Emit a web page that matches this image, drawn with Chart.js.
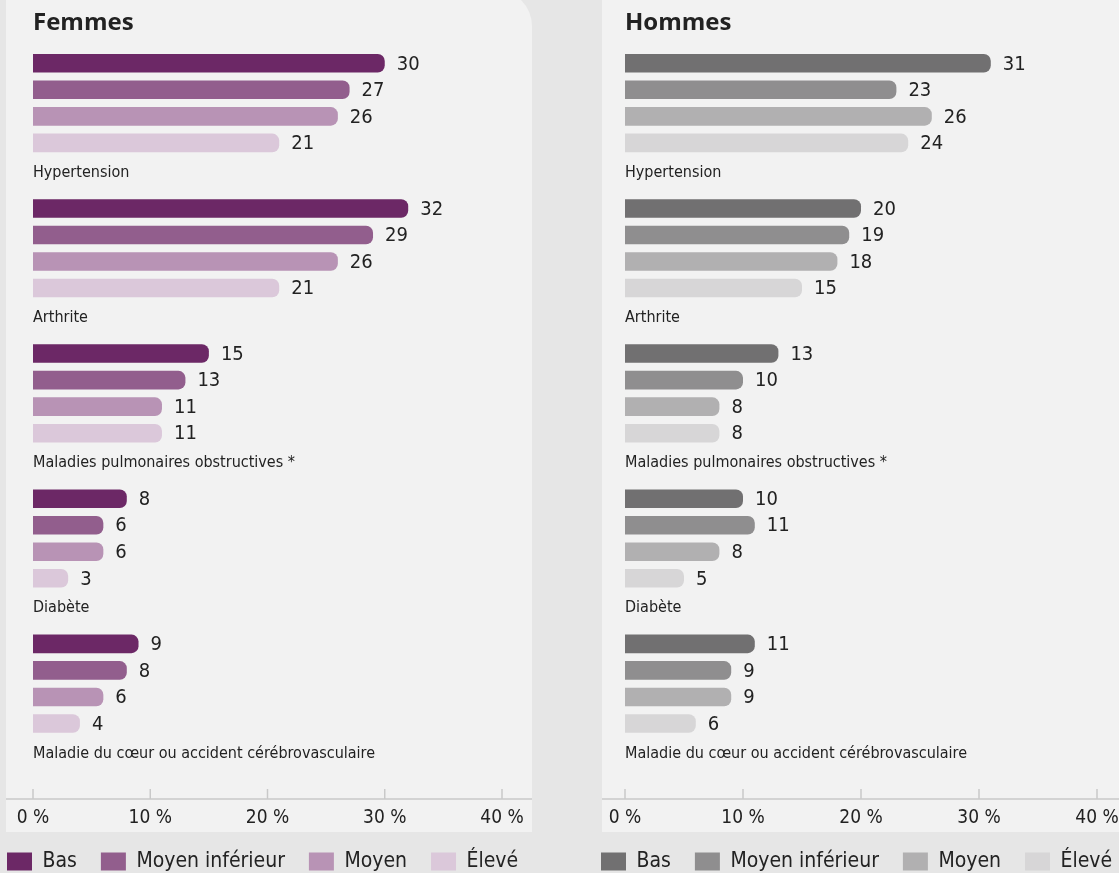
<!DOCTYPE html>
<html lang="fr">
<head>
<meta charset="utf-8">
<title>Maladies chroniques selon le niveau de revenu</title>
<script src="https://cdn.jsdelivr.net/npm/chart.js@4.4.1/dist/chart.umd.min.js"></script>
<style>
  html, body { margin: 0; padding: 0; background: #e6e6e6; overflow: hidden; }
  body { width: 1119px; height: 873px; position: relative; }
  .panel { position: absolute; top: 0; }
  #femmes { left: -17px; width: 577px; height: 882px; }
  #hommes { left: 577px; width: 600px; height: 882px; }
</style>
</head>
<body>
<div class="panel" id="femmes"><canvas id="chart-femmes"></canvas></div>
<div class="panel" id="hommes"><canvas id="chart-hommes"></canvas></div>
<script>
// Share of people with each chronic condition (%), by income level.
const categories = [
  "Hypertension",
  "Arthrite",
  "Maladies pulmonaires obstructives *",
  "Diabète",
  "Maladie du cœur ou accident cérébrovasculaire"
]
const incomeLevels = ["Bas", "Moyen inférieur", "Moyen", "Élevé"]
const xTicks = [0, 10, 20, 30, 40]

const femmesBas      = [30, 32, 15, 8, 9]
const femmesMoyenInf = [27, 29, 13, 6, 8]
const femmesMoyen    = [26, 26, 11, 6, 6]
const femmesEleve    = [21, 21, 11, 3, 4]

const hommesBas      = [31, 20, 13, 10, 11]
const hommesMoyenInf = [23, 19, 10, 11, 9]
const hommesMoyen    = [26, 18, 8, 8, 9]
const hommesEleve    = [24, 15, 8, 5, 6]

const femmesColors = ["#6c2866", "#925e8d", "#b893b5", "#dbc8da"]
const hommesColors = ["#717071", "#8f8e8f", "#b1b0b1", "#d7d6d7"]

const NARROW = "'Liberation Sans Narrow', 'DejaVu Sans Condensed', sans-serif"
const INK = "#222222"

// Light panel behind each chart, plus the axis line with ticks pointing up.
const panelPlugin = {
  id: "panel",
  beforeDraw(chart, args, opts) {
    const { ctx } = chart
    ctx.save()
    ctx.fillStyle = "#f2f2f2"
    ctx.beginPath()
    ctx.roundRect(opts.left, -10, opts.right - opts.left, opts.bottom + 10, [0, opts.radius, 0, 0])
    ctx.fill()
    ctx.restore()
  },
  afterDraw(chart, args, opts) {
    const { ctx } = chart
    const x = chart.scales.x
    const axisY = chart.chartArea.bottom + opts.axisOffset
    ctx.save()
    ctx.strokeStyle = "#c9c9c9"
    ctx.lineWidth = 1.5
    ctx.beginPath()
    ctx.moveTo(opts.left, axisY)
    ctx.lineTo(opts.right, axisY)
    x.ticks.forEach((t) => {
      const px = x.getPixelForValue(t.value)
      ctx.moveTo(px, axisY)
      ctx.lineTo(px, axisY - 10)
    })
    ctx.stroke()
    ctx.restore()
  }
}

// Value at the end of each bar and the condition name under each group.
const labelPlugin = {
  id: "barLabels",
  afterDatasetsDraw(chart) {
    const { ctx } = chart
    const x = chart.scales.x
    ctx.save()
    ctx.fillStyle = INK
    ctx.textAlign = "left"
    ctx.textBaseline = "middle"
    ctx.font = "20px " + NARROW
    for (let d = 0; d < incomeLevels.length; d++) {
      const ds = chart.data.datasets[d]
      chart.getDatasetMeta(d).data.forEach((bar, i) => {
        ctx.fillText(String(ds.data[i]), x.getPixelForValue(ds.data[i]) + 12, bar.y + 1)
      })
    }
    ctx.font = "16px " + NARROW
    chart.getDatasetMeta(incomeLevels.length - 1).data.forEach((bar, i) => {
      ctx.fillText(chart.data.labels[i], chart.chartArea.left, bar.y + 30)
    })
    ctx.restore()
  }
}

function buildChart(canvasId, title, series, colors, layout) {
  const datasets = series.map((data, k) => ({
    label: incomeLevels[k],
    data,
    backgroundColor: colors[k],
    borderWidth: 0,
    borderRadius: 7,
    borderSkipped: "start",
    categoryPercentage: 0.914,
    barPercentage: 0.7
  }))
  // empty fifth slot in each group leaves room for the condition name
  datasets.push({
    label: "",
    data: [null, null, null, null, null],
    backgroundColor: "transparent",
    categoryPercentage: 0.914,
    barPercentage: 0.7
  })

  return new Chart(document.getElementById(canvasId), {
    type: "bar",
    data: { labels: categories, datasets },
    plugins: [panelPlugin, labelPlugin],
    options: {
      indexAxis: "y",
      responsive: true,
      maintainAspectRatio: false,
      animation: false,
      events: [],
      layout: { autoPadding: false, padding: 0 },
      plugins: {
        panel: layout.panel,
        tooltip: { enabled: false },
        title: {
          display: true,
          text: title,
          align: "start",
          fullSize: false,
          color: INK,
          font: { family: "'Open Sans', sans-serif", weight: "bold", size: 24 },
          padding: { top: 9, bottom: 6 }
        },
        legend: {
          position: "bottom",
          align: "start",
          labels: {
            boxWidth: 25,
            boxHeight: 18,
            padding: 24,
            color: INK,
            font: { family: NARROW, size: 21 },
            filter: (item) => item.datasetIndex < incomeLevels.length
          }
        }
      },
      scales: {
        x: {
          min: 0,
          max: 40,
          afterBuildTicks: (scale) => { scale.ticks = xTicks.map((v) => ({ value: v })) },
          // grid hidden; tickLength only pushes the labels below the custom axis line
          grid: { display: false, drawTicks: true, tickLength: 37 },
          border: { display: false },
          ticks: {
            color: INK,
            font: { family: NARROW, size: 19 },
            padding: 0,
            maxRotation: 0,
            autoSkip: false,
            callback: (v) => v + " %"
          },
          afterFit: (scale) => { scale.height = 57.5 }
        },
        y: {
          grid: { display: false },
          border: { display: false },
          ticks: { display: false },
          afterFit: (scale) => { scale.width = layout.axisLeft }
        },
        // empty right-hand axis: keeps the plot narrow without shrinking the legend row
        y2: {
          type: "linear",
          position: "right",
          grid: { display: false },
          border: { display: false },
          ticks: { display: false },
          afterFit: (scale) => { scale.width = layout.axisRight }
        }
      }
    }
  })
}

buildChart("chart-femmes", "Femmes",
  [femmesBas, femmesMoyenInf, femmesMoyen, femmesEleve], femmesColors,
  { axisLeft: 50, axisRight: 58, panel: { left: 23, right: 549, bottom: 832, radius: 36, axisOffset: 29.5 } })

buildChart("chart-hommes", "Hommes",
  [hommesBas, hommesMoyenInf, hommesMoyen, hommesEleve], hommesColors,
  { axisLeft: 48, axisRight: 80, panel: { left: 25, right: 660, bottom: 832, radius: 36, axisOffset: 29.5 } })
</script>
</body>
</html>
